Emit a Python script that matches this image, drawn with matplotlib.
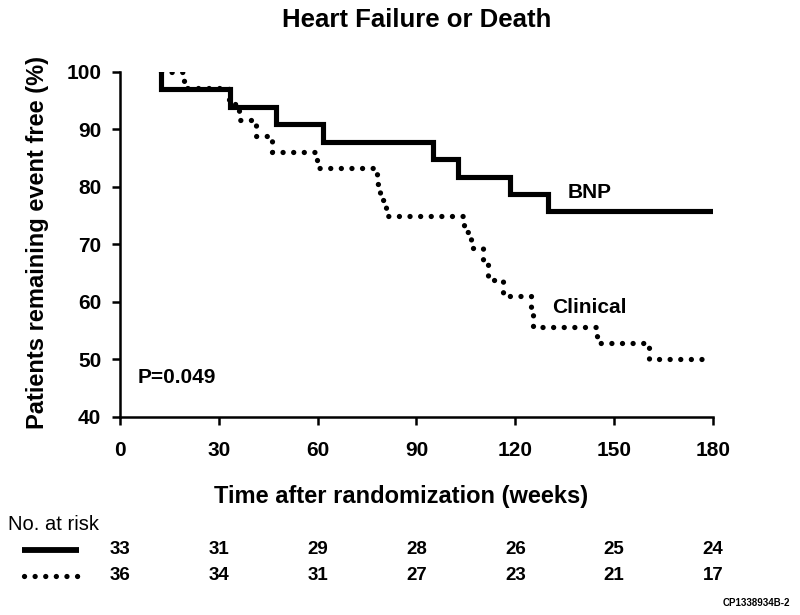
import matplotlib
matplotlib.use("Agg")
import matplotlib.pyplot as plt
from matplotlib.transforms import blended_transform_factory

plt.rcParams['font.family'] = ['Liberation Sans', 'DejaVu Sans']

# Kaplan-Meier step data (weeks, % event free)
bnp_weeks = [12.5, 12.5, 33.4, 47.4, 61.7, 94.9, 102.5, 118.3, 129.8, 180.0]
bnp_surv = [100.0, 97.0, 93.9, 90.9, 87.9, 84.8, 81.8, 78.8, 75.8, 75.8]

clin_weeks = [12.5, 19.5, 33.0, 36.0, 41.3, 46.2, 59.9, 78.1, 79.0, 80.6,
              104.3, 106.5, 110.2, 111.6, 116.2, 124.7, 125.3, 144.7, 160.5, 178.0]
clin_surv = [100.0, 97.2, 94.4, 91.7, 88.9, 86.1, 83.3, 80.6, 77.8, 75.0,
             72.2, 69.4, 66.7, 63.9, 61.1, 58.3, 55.6, 52.8, 50.0, 50.0]

x_ticks = [0, 30, 60, 90, 120, 150, 180]
y_ticks = [40, 50, 60, 70, 80, 90, 100]
risk_bnp = [33, 31, 29, 28, 26, 25, 24]
risk_clin = [36, 34, 31, 27, 23, 21, 17]

fig = plt.figure(figsize=(8, 6.15), dpi=100)
ax = fig.add_axes([0.15, 0.3220, 0.7412, 0.5610])

solid_lw = 3.7
dot_lw = 3.8
dot_style = (0, (0.01, 2.0))

ax.step(bnp_weeks, bnp_surv, where='post', color='black', lw=solid_lw,
        solid_joinstyle='miter')
ax.step(clin_weeks, clin_surv, where='post', color='black', lw=dot_lw,
        linestyle=dot_style, dash_capstyle='round')

ax.set_xlim(0, 180)
ax.set_ylim(40, 100)
ax.set_xticks(x_ticks)
ax.set_yticks(y_ticks)
ax.spines['top'].set_visible(False)
ax.spines['right'].set_visible(False)
for s in ['left', 'bottom']:
    ax.spines[s].set_linewidth(1.8)
ax.tick_params(axis='both', direction='out', length=5.5, width=1.8,
               labelsize=15)
ax.tick_params(axis='x', pad=12)
ax.tick_params(axis='y', pad=8)
for lab in ax.get_xticklabels() + ax.get_yticklabels():
    lab.set_fontweight('bold')

ax.text(135.9, 79.1, 'BNP', fontsize=15, fontweight='bold', va='center', ha='left')
ax.text(131.3, 59.0, 'Clinical', fontsize=15, fontweight='bold', va='center', ha='left')
ax.text(5.2, 46.8, 'P=0.049', fontsize=15, fontweight='bold', va='center', ha='left')

fig.text(417 / 800, 1 - 20 / 615, 'Heart Failure or Death', fontsize=18.5,
         fontweight='bold', ha='center', va='center')
fig.text(401 / 800, 1 - 497 / 615, 'Time after randomization (weeks)', fontsize=17,
         fontweight='bold', ha='center', va='center')
fig.text(38 / 800, 1 - 242 / 615, 'Patients remaining event free (%)', fontsize=17,
         fontweight='bold', ha='center', va='center', rotation=90)

# Number at risk table
fig.text(8 / 800, 1 - 525 / 615, 'No. at risk', fontsize=14.5, ha='left', va='center')
trans = blended_transform_factory(ax.transData, fig.transFigure)
y1 = 1 - 550 / 615
y2 = 1 - 576 / 615
fig.add_artist(plt.Line2D([22 / 800, 79 / 800], [y1, y1], color='black', lw=4.2,
                          transform=fig.transFigure, solid_capstyle='butt'))
fig.add_artist(plt.Line2D([24 / 800, 80 / 800], [y2, y2], color='black', lw=3.8,
                          linestyle=(0, (0.01, 2.0)), dash_capstyle='round',
                          transform=fig.transFigure))
for xt, a, b in zip(x_ticks, risk_bnp, risk_clin):
    fig.text(xt, y1, str(a), transform=trans, fontsize=13.5, fontweight='bold',
             ha='center', va='center')
    fig.text(xt, y2, str(b), transform=trans, fontsize=13.5, fontweight='bold',
             ha='center', va='center')

fig.text(756 / 800, 1 - 603 / 615, 'CP1338934B-2', fontsize=7, fontweight='bold',
         ha='center', va='center')

fig.savefig('out.png', dpi=100)
